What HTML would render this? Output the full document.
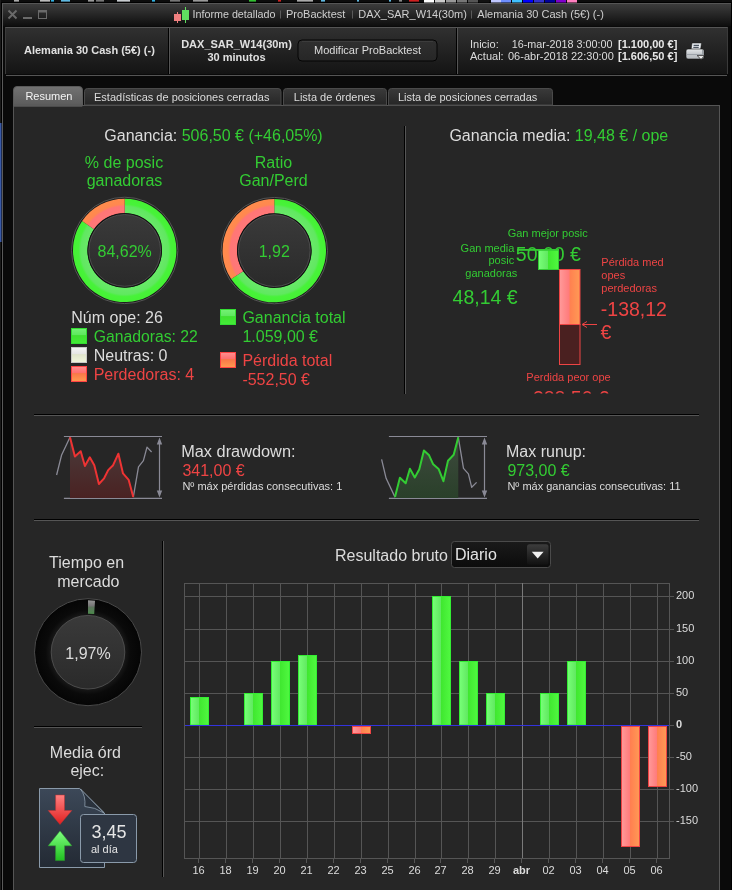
<!DOCTYPE html>
<html><head><meta charset="utf-8">
<style>
*{margin:0;padding:0;box-sizing:border-box}
html,body{width:732px;height:890px;overflow:hidden;background:#000;font-family:"Liberation Sans",sans-serif}
.abs{position:absolute}
#bgtop{left:0;top:0;width:732px;height:2px;background:#0c0c0c}
#bgleft{left:0;top:0;width:1px;height:890px;background:#1a1a1a}
#win{left:2px;top:3px;width:729px;height:887px;background:#0a0a0a;border-left:1px solid #5a5a5a;border-top:1px solid #555}
#title{left:3px;top:4px;width:728px;height:22px;background:linear-gradient(#3c3c3c,#0e0e0e)}
#hdr{left:5px;top:27px;width:723px;height:47px;background:linear-gradient(#303030,#141414);border-top:1px solid #555;border-left:1px solid #3a3a3a;border-right:1px solid #3a3a3a}
#hdrb{left:6px;top:75px;width:721px;height:1px;background:#555}
.t11{font-size:11px}
svg text{font-family:"Liberation Sans",sans-serif}
svg{will-change:transform}
#panel{left:13px;top:105px;width:707px;height:800px;background:#262626;border:1px solid #555}
</style></head><body>
<div class="abs" id="bgtop"></div>
<div class="abs" id="bgleft"></div>
<div class="abs" id="win"></div>
<div class="abs" id="title"></div>
<div class="abs" id="hdr"></div>
<div class="abs" id="hdrb"></div>
<div class="abs" id="panel"></div>

<svg class="abs" style="left:0;top:0" width="732" height="890" viewBox="0 0 732 890">
<defs>
  <linearGradient id="tabA" x1="0" y1="0" x2="0" y2="1"><stop offset="0" stop-color="#727272"/><stop offset="1" stop-color="#5a5a5a"/></linearGradient>
  <linearGradient id="tabI" x1="0" y1="0" x2="0" y2="1"><stop offset="0" stop-color="#3a3a3a"/><stop offset="1" stop-color="#262626"/></linearGradient>
  <linearGradient id="btn" x1="0" y1="0" x2="0" y2="1"><stop offset="0" stop-color="#303030"/><stop offset="1" stop-color="#262626"/></linearGradient>
  <linearGradient id="sqG" x1="0" y1="0" x2="0" y2="1"><stop offset="0" stop-color="#74f274"/><stop offset="0.44" stop-color="#5ee85e"/><stop offset="0.47" stop-color="#40e030"/><stop offset="1" stop-color="#44ec38"/></linearGradient>
  <linearGradient id="sqW" x1="0" y1="0" x2="0" y2="1"><stop offset="0" stop-color="#f6f6f6"/><stop offset="0.44" stop-color="#e4e4e4"/><stop offset="0.47" stop-color="#e0e4cc"/><stop offset="1" stop-color="#f0f6dc"/></linearGradient>
  <linearGradient id="sqR" x1="0" y1="0" x2="0" y2="1"><stop offset="0" stop-color="#ff9090"/><stop offset="0.44" stop-color="#ff6e6e"/><stop offset="0.47" stop-color="#f87848"/><stop offset="1" stop-color="#ff9a50"/></linearGradient>
  <linearGradient id="barG" x1="0" y1="0" x2="1" y2="0"><stop offset="0" stop-color="#78ff78"/><stop offset="0.48" stop-color="#60e860"/><stop offset="0.5" stop-color="#40e830"/><stop offset="1" stop-color="#50f840"/></linearGradient>
  <linearGradient id="barR" x1="0" y1="0" x2="1" y2="0"><stop offset="0" stop-color="#ff9a9a"/><stop offset="0.48" stop-color="#ff7a7a"/><stop offset="0.5" stop-color="#ff8050"/><stop offset="1" stop-color="#ff9a55"/></linearGradient>
  <linearGradient id="inner" x1="0" y1="0" x2="0" y2="1"><stop offset="0" stop-color="#3a3a3a"/><stop offset="1" stop-color="#2a2a2a"/></linearGradient>
  <radialGradient id="rg1" gradientUnits="userSpaceOnUse" cx="124.7" cy="250.4" r="51.7"><stop offset="0.72" stop-color="#5cf05c"/><stop offset="0.745" stop-color="#68e868"/><stop offset="0.85" stop-color="#60e860"/><stop offset="0.895" stop-color="#48f23a"/><stop offset="1" stop-color="#44f233"/></radialGradient>
  <radialGradient id="rr1" gradientUnits="userSpaceOnUse" cx="124.7" cy="250.4" r="51.7"><stop offset="0.72" stop-color="#ff7070"/><stop offset="0.745" stop-color="#ff7878"/><stop offset="0.85" stop-color="#ff7676"/><stop offset="0.895" stop-color="#ff8850"/><stop offset="1" stop-color="#ff8c4c"/></radialGradient>
  <radialGradient id="rg2" gradientUnits="userSpaceOnUse" cx="274.3" cy="250.6" r="51.7"><stop offset="0.72" stop-color="#5cf05c"/><stop offset="0.745" stop-color="#68e868"/><stop offset="0.85" stop-color="#60e860"/><stop offset="0.895" stop-color="#48f23a"/><stop offset="1" stop-color="#44f233"/></radialGradient>
  <radialGradient id="rr2" gradientUnits="userSpaceOnUse" cx="274.3" cy="250.6" r="51.7"><stop offset="0.72" stop-color="#ff7070"/><stop offset="0.745" stop-color="#ff7878"/><stop offset="0.85" stop-color="#ff7676"/><stop offset="0.895" stop-color="#ff8850"/><stop offset="1" stop-color="#ff8c4c"/></radialGradient>
  <linearGradient id="ddfill" x1="0" y1="0" x2="0" y2="1"><stop offset="0" stop-color="#4a3c3c"/><stop offset="1" stop-color="#4a2222"/></linearGradient>
  <linearGradient id="rufill" x1="0" y1="0" x2="0" y2="1"><stop offset="0" stop-color="#3e4a3e"/><stop offset="1" stop-color="#2a402a"/></linearGradient>
</defs>

<!-- title bar -->
<g stroke="#6a6a6a" stroke-width="1.6" fill="none">
  <path d="M8.5 10.5 L16.5 18.5 M16.5 10.5 L8.5 18.5" stroke-width="1.9"/>
</g>
<rect x="23" y="17" width="9" height="2" fill="#6a6a6a"/>
<rect x="38.5" y="10.5" width="8" height="8" fill="none" stroke="#6a6a6a" stroke-width="1"/>
<rect x="38.5" y="10.5" width="8" height="2" fill="#6a6a6a"/>
<line x1="177.5" y1="12" x2="177.5" y2="23" stroke="#f08080"/>
<rect x="174" y="14" width="7" height="7" fill="#f08080"/>
<line x1="185.5" y1="7" x2="185.5" y2="23" stroke="#60e060"/>
<rect x="182" y="10" width="7" height="10" fill="#60e060"/>
<g font-size="11" fill="#cfcfcf">
  <text x="192.5" y="18" textLength="83" lengthAdjust="spacingAndGlyphs">Informe detallado</text>
  <text x="286" y="18">ProBacktest</text>
  <text x="358.3" y="18" textLength="108.6" lengthAdjust="spacingAndGlyphs">DAX_SAR_W14(30m)</text>
  <text x="477.3" y="18">Alemania 30 Cash (5€) (-)</text>
</g>
<g stroke="#5a5a5a"><line x1="280.5" y1="10.5" x2="280.5" y2="18.5"/><line x1="352.5" y1="10.5" x2="352.5" y2="18.5"/><line x1="471.5" y1="10.5" x2="471.5" y2="18.5"/></g>

<!-- header -->
<rect x="168" y="28" width="1" height="46" fill="#000"/>
<rect x="169" y="28" width="1" height="46" fill="#555"/>
<rect x="456" y="28" width="1" height="46" fill="#000"/>
<rect x="457" y="28" width="1" height="46" fill="#555"/>
<g font-size="11" font-weight="bold" fill="#e0e0e0">
  <text x="24" y="53.6">Alemania 30 Cash (5€) (-)</text>
  <text x="236.5" y="48" text-anchor="middle">DAX_SAR_W14(30m)</text>
  <text x="236.5" y="60.8" text-anchor="middle">30 minutos</text>
</g>
<rect x="298" y="40" width="139" height="21" rx="4" fill="url(#btn)" stroke="#050505"/>
<path d="M302 41.5 L433 41.5" stroke="#3c3c3c" stroke-width="1"/>
<text x="367.5" y="53.7" font-size="11" fill="#dcdcdc" text-anchor="middle">Modificar ProBacktest</text>
<g font-size="11" fill="#dcdcdc">
  <text x="470" y="47.5">Inicio:</text>
  <text x="511.8" y="47.5" textLength="100.6" lengthAdjust="spacingAndGlyphs">16-mar-2018 3:00:00</text>
  <text x="470" y="60.4">Actual:</text>
  <text x="508" y="60.4">06-abr-2018 22:30:00</text>
</g>
<g font-size="11" font-weight="bold" fill="#e8e8e8">
  <text x="618" y="47.5">[1.100,00 €]</text>
  <text x="618" y="60.4">[1.606,50 €]</text>
</g>
<!-- printer -->
<defs><linearGradient id="prb" x1="0" y1="0" x2="0" y2="1"><stop offset="0" stop-color="#e6e8ea"/><stop offset="0.5" stop-color="#c4c8cc"/><stop offset="1" stop-color="#b8bcc0"/></linearGradient></defs>
<path d="M692 43 L701.5 43 L700.5 50 L691 50 Z" fill="#e8ecf0" stroke="#111" stroke-width="0.5"/>
<rect x="693.6" y="44.8" width="5.4" height="1.1" fill="#3a4450"/>
<rect x="693.3" y="46.8" width="5.4" height="1.1" fill="#3a4450"/>
<rect x="686" y="49" width="18" height="10" rx="2" fill="url(#prb)" stroke="#111" stroke-width="0.6"/>
<rect x="686.5" y="54" width="17" height="0.9" fill="#9aa0a6"/>
<rect x="702" y="50" width="1.5" height="5" fill="#9aa0a6"/>
<path d="M697.2 55.6 L704.6 55.6 L701 59.4 Z" fill="#f0f0f0" stroke="#111" stroke-width="0.7"/>
<!-- tabs -->

<path d="M84.5 105 L84.5 91.5 Q84.5 88.5 87.5 88.5 L278 88.5 Q281 88.5 281 91.5 L281 105 Z" fill="url(#tabI)" stroke="#4a4a4a"/>
<path d="M283.5 105 L283.5 91.5 Q283.5 88.5 286.5 88.5 L383.5 88.5 Q386.5 88.5 386.5 91.5 L386.5 105 Z" fill="url(#tabI)" stroke="#4a4a4a"/>
<path d="M388.5 105 L388.5 91.5 Q388.5 88.5 391.5 88.5 L549.5 88.5 Q552.5 88.5 552.5 91.5 L552.5 105 Z" fill="url(#tabI)" stroke="#4a4a4a"/>
<path d="M13.5 106 L13.5 90 Q13.5 86.5 17 86.5 L79 86.5 Q82.5 86.5 82.5 90 L82.5 106 Z" fill="url(#tabA)" stroke="#5a5a5a"/>
<rect x="14" y="104" width="68" height="2.5" fill="#5a5a5a"/>
<g font-size="11" fill="#dcdcdc">
  <text x="25.4" y="99.8" fill="#f4f4f4">Resumen</text>
  <text x="94" y="101">Estadísticas de posiciones cerradas</text>
  <text x="293.8" y="101">Lista de órdenes</text>
  <text x="397.9" y="101">Lista de posiciones cerradas</text>
</g>
<rect x="424" y="0" width="10" height="2.5" fill="#ffffff"/>
<rect x="435" y="0" width="10" height="2.5" fill="#cccccc"/>
<rect x="446" y="0" width="10" height="2.5" fill="#999999"/>
<rect x="457" y="0" width="10" height="2.5" fill="#777777"/>
<rect x="468" y="0" width="10" height="2.5" fill="#555555"/>
<rect x="479" y="0" width="10" height="2.5" fill="#111111"/>
<rect x="491" y="0" width="10" height="2.5" fill="#c0c8ff"/>
<rect x="501" y="0" width="10" height="2.5" fill="#6f8fff"/>
<rect x="512" y="0" width="10" height="2.5" fill="#40c0ff"/>
<rect x="523" y="0" width="10" height="2.5" fill="#0000ff"/>
<rect x="534" y="0" width="10" height="2.5" fill="#3333cc"/>
<rect x="545" y="0" width="10" height="2.5" fill="#000099"/>
<rect x="556" y="0" width="10" height="2.5" fill="#8000cc"/>
<rect x="567" y="0" width="10" height="2.5" fill="#ff80c0"/>
<rect x="0" y="123" width="1.5" height="119" fill="#3a5aa8"/>
<rect x="14" y="0" width="5" height="1.6" fill="#aaaaaa"/>
<rect x="40" y="0" width="10" height="1.6" fill="#bbbbbb"/>
<rect x="51" y="0" width="3" height="1.6" fill="#30b0e0"/>
<rect x="61" y="0" width="9" height="1.6" fill="#60b8e0"/>
<rect x="88" y="0" width="6" height="1.6" fill="#999999"/>
<rect x="96" y="0" width="8" height="1.6" fill="#777777"/>
<rect x="117" y="0" width="13" height="1.6" fill="#c8ccd0"/>
<rect x="152" y="0" width="3" height="1.6" fill="#30b0e0"/>
<rect x="170" y="0" width="10" height="1.6" fill="#777777"/>
<rect x="193" y="0" width="15" height="1.6" fill="#999999"/>
<rect x="249" y="0" width="7" height="1.6" fill="#30c030"/>
<rect x="278" y="0" width="3" height="1.6" fill="#d02020"/>
<rect x="297" y="0" width="16" height="1.6" fill="#aaaaaa"/>
<rect x="321" y="0" width="4" height="1.6" fill="#60b8e0"/>
<rect x="357" y="0" width="2" height="1.6" fill="#60b8e0"/>
<rect x="389" y="0" width="2" height="1.6" fill="#60b8e0"/>
<rect x="399" y="0" width="3" height="1.6" fill="#888888"/>
<rect x="409" y="0" width="10" height="1.6" fill="#d02020"/>
<rect x="404" y="126" width="1" height="268" fill="#000"/><rect x="405" y="126" width="1" height="268" fill="#555"/>
<rect x="34" y="414" width="665" height="1" fill="#000"/><rect x="34" y="415" width="665" height="1" fill="#555"/>
<rect x="34" y="519" width="665" height="1" fill="#000"/><rect x="34" y="520" width="665" height="1" fill="#555"/>
<rect x="162" y="541" width="1" height="336" fill="#000"/><rect x="163" y="541" width="1" height="336" fill="#555"/>
<rect x="34" y="726" width="108" height="1" fill="#000"/><rect x="34" y="727" width="108" height="1" fill="#555"/>
<text x="104.3" y="140.7" font-size="16" fill="#dcdcdc">Ganancia: <tspan fill="#33cc33">506,50 € (+46,05%)</tspan></text>
<g font-size="16" fill="#33cc33" text-anchor="middle"><text x="124" y="167.6">% de posic</text><text x="124.5" y="185.8">ganadoras</text><text x="273.5" y="167.6">Ratio</text><text x="273.5" y="185.8">Gan/Perd</text></g>
<circle cx="124.7" cy="250.4" r="53.2" fill="#1c1c1c" stroke="#555" stroke-width="1"/>
<path d="M124.70 198.70 A51.7 51.7 0 1 1 82.16 221.02 L94.01 229.20 A37.3 37.3 0 1 0 124.70 213.10 Z" fill="url(#rg1)"/>
<path d="M82.16 221.02 A51.7 51.7 0 0 1 124.70 198.70 L124.70 213.10 A37.3 37.3 0 0 0 94.01 229.20 Z" fill="url(#rr1)"/>
<circle cx="124.7" cy="250.4" r="36.6" fill="url(#inner)" stroke="#111" stroke-width="1.2"/>
<circle cx="124.7" cy="250.4" r="35.9" fill="none" stroke="#555" stroke-width="0.8"/>
<text x="124.7" y="256.7" font-size="16" fill="#33cc33" text-anchor="middle">84,62%</text>
<circle cx="274.3" cy="250.6" r="53.2" fill="#1c1c1c" stroke="#555" stroke-width="1"/>
<path d="M274.30 198.90 A51.7 51.7 0 1 1 231.15 279.08 L243.17 271.15 A37.3 37.3 0 1 0 274.30 213.30 Z" fill="url(#rg2)"/>
<path d="M231.15 279.08 A51.7 51.7 0 0 1 274.30 198.90 L274.30 213.30 A37.3 37.3 0 0 0 243.17 271.15 Z" fill="url(#rr2)"/>
<circle cx="274.3" cy="250.6" r="36.6" fill="url(#inner)" stroke="#111" stroke-width="1.2"/>
<circle cx="274.3" cy="250.6" r="35.9" fill="none" stroke="#555" stroke-width="0.8"/>
<text x="274.3" y="256.9" font-size="16" fill="#33cc33" text-anchor="middle">1,92</text>
<text x="71.3" y="323.2" font-size="16" fill="#dcdcdc">Núm ope: 26</text>
<rect x="71.5" y="328.5" width="15" height="15" fill="url(#sqG)" stroke="#33dd33" stroke-width="1"/>
<text x="93.7" y="342.2" font-size="16" fill="#33cc33" textLength="104.2" lengthAdjust="spacingAndGlyphs">Ganadoras: 22</text>
<rect x="71.5" y="347.5" width="15" height="15" fill="url(#sqW)" stroke="#c8c8c8" stroke-width="1"/>
<text x="93.7" y="361.2" font-size="16" fill="#dcdcdc">Neutras: 0</text>
<rect x="71.5" y="366.5" width="15" height="15" fill="url(#sqR)" stroke="#ff4444" stroke-width="1"/>
<text x="93.7" y="380.2" font-size="16" fill="#ee4444">Perdedoras: 4</text>
<rect x="220.5" y="309.5" width="15" height="15" fill="url(#sqG)" stroke="#33dd33"/>
<rect x="220.5" y="352.5" width="15" height="15" fill="url(#sqR)" stroke="#ff4444"/>
<text x="242.4" y="323.4" font-size="16" fill="#33cc33">Ganancia total</text>
<text x="242.4" y="341.8" font-size="16" fill="#33cc33">1.059,00 €</text>
<text x="242.4" y="366" font-size="16" fill="#ee4444">Pérdida total</text>
<text x="242.4" y="384.6" font-size="16" fill="#ee4444">-552,50 €</text>
<text x="449.4" y="141.2" font-size="16" fill="#dcdcdc">Ganancia media: <tspan fill="#33cc33">19,48 € / ope</tspan></text>
<defs><clipPath id="clipR"><rect x="405" y="120" width="300" height="273.5"/></clipPath><linearGradient id="gbox" x1="0" y1="0" x2="1" y2="0"><stop offset="0" stop-color="#78ff78"/><stop offset="0.48" stop-color="#60e860"/><stop offset="0.5" stop-color="#40e830"/><stop offset="1" stop-color="#50f840"/></linearGradient></defs>
<g clip-path="url(#clipR)">
<text x="547.7" y="236.8" font-size="11" fill="#33cc33" text-anchor="middle">Gan mejor posic</text>
<text x="548.4" y="260.8" font-size="19.5" fill="#33cc33" text-anchor="middle">50,00 €</text>
<rect x="538.5" y="249.5" width="20" height="20" fill="url(#gbox)" stroke="#3c3" stroke-width="1"/>
<rect x="517" y="249" width="42" height="1.8" fill="#33cc33"/>
<g font-size="11" fill="#33cc33" text-anchor="end"><text x="514.4" y="251.8">Gan media</text><text x="514.2" y="264.4">posic</text><text x="517.3" y="276.8">ganadoras</text></g>
<text x="517.6" y="303.8" font-size="19.5" fill="#33cc33" text-anchor="end">48,14 €</text>
<rect x="559.5" y="269.5" width="20.5" height="55" fill="url(#barR)" stroke="#e44" stroke-width="1"/>
<rect x="559.5" y="324.5" width="20.5" height="40" fill="#4a2020" stroke="#e44" stroke-width="1"/>
<line x1="583" y1="324.5" x2="597" y2="324.5" stroke="#e44" stroke-width="1"/><path d="M582 324.5 L587 321.5 M582 324.5 L587 327.5" stroke="#e44" stroke-width="1" fill="none"/>
<g font-size="11" fill="#ee4444"><text x="601.3" y="266">Pérdida med</text><text x="601.3" y="279">opes</text><text x="601.3" y="292.2">perdedoras</text></g>
<text x="600.8" y="315.7" font-size="19.5" fill="#ee4444">-138,12</text><text x="600.6" y="338.8" font-size="19.5" fill="#ee4444">€</text>
<text x="568.5" y="380.6" font-size="11" fill="#ee4444" text-anchor="middle">Perdida peor ope</text>
<text x="567.6" y="404.8" font-size="19.5" fill="#ee4444" text-anchor="middle">-388,50 €</text>
</g>
<line x1="63.9" y1="436.5" x2="162" y2="436.5" stroke="#8a8a96" stroke-width="1.2"/>
<line x1="63.9" y1="498.3" x2="162" y2="498.3" stroke="#8a8a96" stroke-width="1.2"/>
<line x1="159.5" y1="440" x2="159.5" y2="495" stroke="#8a8a96" stroke-width="1.2"/>
<path d="M159.5 437.5 L156.8 444.5 L162.2 444.5 Z M159.5 497.5 L156.8 490.5 L162.2 490.5 Z" fill="#8a8a96"/>
<polygon points="70.0,498 70.0,437.3 74.9,456.5 80.7,451.2 84.9,466.0 89.8,457.3 94.3,465.2 98.9,484.0 104.1,478.3 108.2,470.1 113.1,465.2 118.4,453.7 123.0,473.4 128.7,479.9 133.3,497.1 133.3,498" fill="url(#ddfill)"/>
<polyline points="56.6,475.0 61.5,455.3 70.0,437.3" fill="none" stroke="#8a8a96" stroke-width="1.3" stroke-linejoin="round"/>
<polyline points="133.3,497.1 138.5,466.8 143.4,460.7 147.0,447.1 151.6,452.0" fill="none" stroke="#8a8a96" stroke-width="1.3" stroke-linejoin="round"/>
<polyline points="70.0,437.3 74.9,456.5 80.7,451.2 84.9,466.0 89.8,457.3 94.3,465.2 98.9,484.0 104.1,478.3 108.2,470.1 113.1,465.2 118.4,453.7 123.0,473.4 128.7,479.9 133.3,497.1" fill="none" stroke="#ee3333" stroke-width="2" stroke-linejoin="round"/>
<line x1="388.9" y1="436.5" x2="487" y2="436.5" stroke="#8a8a96" stroke-width="1.2"/>
<line x1="388.9" y1="498.3" x2="487" y2="498.3" stroke="#8a8a96" stroke-width="1.2"/>
<line x1="484.5" y1="440" x2="484.5" y2="495" stroke="#8a8a96" stroke-width="1.2"/>
<path d="M484.5 437.5 L481.8 444.5 L487.2 444.5 Z M484.5 497.5 L481.8 490.5 L487.2 490.5 Z" fill="#8a8a96"/>
<polygon points="395.0,498 395.0,497.1 399.9,477.8 405.7,483.2 409.9,468.8 414.8,477.5 419.3,469.3 423.9,450.4 429.1,455.3 433.2,464.3 438.6,468.9 443.4,481.2 448.0,460.7 453.7,454.8 458.3,437.3 458.3,498" fill="url(#rufill)"/>
<polyline points="381.6,459.4 386.1,478.3 395.0,497.1" fill="none" stroke="#8a8a96" stroke-width="1.3" stroke-linejoin="round"/>
<polyline points="458.3,437.3 463.5,468.4 468.4,473.9 471.7,487.3 476.6,482.4" fill="none" stroke="#8a8a96" stroke-width="1.3" stroke-linejoin="round"/>
<polyline points="395.0,497.1 399.9,477.8 405.7,483.2 409.9,468.8 414.8,477.5 419.3,469.3 423.9,450.4 429.1,455.3 433.2,464.3 438.6,468.9 443.4,481.2 448.0,460.7 453.7,454.8 458.3,437.3" fill="none" stroke="#33cc33" stroke-width="2" stroke-linejoin="round"/>
<text x="181.2" y="456.6" font-size="16" fill="#dcdcdc" textLength="114.3" lengthAdjust="spacingAndGlyphs">Max drawdown:</text>
<text x="182.4" y="475.6" font-size="16" fill="#ee4444">341,00 €</text>
<text x="182.4" y="489.6" font-size="11" fill="#dcdcdc">Nº máx pérdidas consecutivas: 1</text>
<text x="506" y="456.6" font-size="16" fill="#dcdcdc">Max runup:</text>
<text x="507.4" y="475.6" font-size="16" fill="#33cc33">973,00 €</text>
<text x="507.4" y="489.6" font-size="11" fill="#dcdcdc">Nº máx ganancias consecutivas: 11</text>
<g font-size="16" fill="#dcdcdc"><text x="49.1" y="567.8">Tiempo en</text><text x="57.2" y="586.6">mercado</text></g>
<defs><radialGradient id="tring" gradientUnits="userSpaceOnUse" cx="88" cy="652.2" r="53"><stop offset="0.68" stop-color="#1a1a1a"/><stop offset="0.8" stop-color="#0a0a0a"/><stop offset="1" stop-color="#050505"/></radialGradient><linearGradient id="tseg" x1="0" y1="0" x2="0" y2="1"><stop offset="0" stop-color="#959595"/><stop offset="0.4" stop-color="#767676"/><stop offset="0.5" stop-color="#5e745e"/><stop offset="1" stop-color="#4c8a4c"/></linearGradient></defs>
<circle cx="88" cy="652.2" r="53.5" fill="url(#tring)" stroke="#4a4a4a" stroke-width="1"/>
<path d="M88 600.3 L95 600.8 L94.2 614 L88 613.8 Z" fill="url(#tseg)"/>
<circle cx="88" cy="652.2" r="36.8" fill="url(#inner)" stroke="#555" stroke-width="0.8"/>
<text x="88" y="658.5" font-size="16" fill="#dcdcdc" text-anchor="middle">1,97%</text>
<g font-size="16" fill="#dcdcdc"><text x="49.8" y="757.5">Media órd</text><text x="70.4" y="776">ejec:</text></g>
<defs><linearGradient id="doc" x1="0" y1="0" x2="0" y2="1"><stop offset="0" stop-color="#3c4858"/><stop offset="1" stop-color="#232a34"/></linearGradient><linearGradient id="arR" x1="0" y1="0" x2="0" y2="1"><stop offset="0" stop-color="#ff8080"/><stop offset="1" stop-color="#e02020"/></linearGradient><linearGradient id="arG" x1="0" y1="0" x2="0" y2="1"><stop offset="0" stop-color="#80ff80"/><stop offset="1" stop-color="#20c020"/></linearGradient></defs>
<path d="M39.5 788.5 L79.7 788.5 L104.5 813 L104.5 867.5 L39.5 867.5 Z" fill="url(#doc)" stroke="#8a9aaa" stroke-width="1"/>
<path d="M80.5 789 Q86 796 84.8 806.5 Q95 807 104 813 L80.5 789 Z" fill="#2a323d" stroke="#9aaaba" stroke-width="0.7"/>
<path d="M55.6 795 L64.5 795 L64.5 810.5 L71.8 810.5 L60 824.5 L48.2 810.5 L55.6 810.5 Z" fill="url(#arR)" stroke="#c03030" stroke-width="0.5"/>
<path d="M60 831 L71.8 845.8 L64.5 845.8 L64.5 860.6 L55.6 860.6 L55.6 845.8 L48.2 845.8 Z" fill="url(#arG)" stroke="#30a030" stroke-width="0.5"/>
<rect x="80.5" y="814.5" width="56" height="48" rx="3" fill="#2e3642" stroke="#8a9aaa" stroke-width="1"/>
<text x="91.4" y="837.5" font-size="18" fill="#e6e6e6">3,45</text>
<text x="90.9" y="853.2" font-size="11" fill="#e6e6e6">al día</text>
<text x="335" y="560.5" font-size="16" fill="#dcdcdc">Resultado bruto</text>
<defs><linearGradient id="dd" x1="0" y1="0" x2="0" y2="1"><stop offset="0" stop-color="#1a1a1a"/><stop offset="1" stop-color="#0c0c0c"/></linearGradient><linearGradient id="ddb" x1="0" y1="0" x2="0" y2="1"><stop offset="0" stop-color="#3c3c3c"/><stop offset="1" stop-color="#111"/></linearGradient></defs>
<rect x="451.5" y="541.5" width="99" height="26" rx="3" fill="url(#dd)" stroke="#4a4a4a"/>
<text x="455" y="560.3" font-size="16" fill="#e4e4e4">Diario</text>
<rect x="527" y="544.3" width="21.5" height="20.5" rx="2.5" fill="url(#ddb)"/>
<path d="M531.8 551.8 L543.6 551.8 L537.7 558.4 Z" fill="#f0f0f0"/>
<rect x="184.5" y="583.5" width="485" height="275" fill="none" stroke="#555" stroke-width="1"/>
<rect x="184" y="596" width="490" height="1" fill="#555"/>
<rect x="184" y="629" width="490" height="1" fill="#555"/>
<rect x="184" y="661" width="490" height="1" fill="#555"/>
<rect x="184" y="693" width="490" height="1" fill="#555"/>
<rect x="184" y="757" width="490" height="1" fill="#555"/>
<rect x="184" y="789" width="490" height="1" fill="#555"/>
<rect x="184" y="821" width="490" height="1" fill="#555"/>
<rect x="199" y="583" width="1" height="275" fill="#555"/>
<rect x="198" y="858" width="1" height="5" fill="#555"/>
<text x="198.5" y="874" font-size="11" fill="#dcdcdc" text-anchor="middle">16</text>
<rect x="226" y="583" width="1" height="275" fill="#555"/>
<rect x="225" y="858" width="1" height="5" fill="#555"/>
<text x="225.5" y="874" font-size="11" fill="#dcdcdc" text-anchor="middle">18</text>
<rect x="253" y="583" width="1" height="275" fill="#555"/>
<rect x="252" y="858" width="1" height="5" fill="#555"/>
<text x="252.5" y="874" font-size="11" fill="#dcdcdc" text-anchor="middle">19</text>
<rect x="280" y="583" width="1" height="275" fill="#555"/>
<rect x="279" y="858" width="1" height="5" fill="#555"/>
<text x="279.5" y="874" font-size="11" fill="#dcdcdc" text-anchor="middle">20</text>
<rect x="307" y="583" width="1" height="275" fill="#555"/>
<rect x="306" y="858" width="1" height="5" fill="#555"/>
<text x="306.5" y="874" font-size="11" fill="#dcdcdc" text-anchor="middle">21</text>
<rect x="334" y="583" width="1" height="275" fill="#555"/>
<rect x="333" y="858" width="1" height="5" fill="#555"/>
<text x="333.5" y="874" font-size="11" fill="#dcdcdc" text-anchor="middle">22</text>
<rect x="361" y="583" width="1" height="275" fill="#555"/>
<rect x="360" y="858" width="1" height="5" fill="#555"/>
<text x="360.5" y="874" font-size="11" fill="#dcdcdc" text-anchor="middle">23</text>
<rect x="388" y="583" width="1" height="275" fill="#555"/>
<rect x="387" y="858" width="1" height="5" fill="#555"/>
<text x="387.5" y="874" font-size="11" fill="#dcdcdc" text-anchor="middle">25</text>
<rect x="415" y="583" width="1" height="275" fill="#555"/>
<rect x="414" y="858" width="1" height="5" fill="#555"/>
<text x="414.5" y="874" font-size="11" fill="#dcdcdc" text-anchor="middle">26</text>
<rect x="441" y="583" width="1" height="275" fill="#555"/>
<rect x="440" y="858" width="1" height="5" fill="#555"/>
<text x="440.5" y="874" font-size="11" fill="#dcdcdc" text-anchor="middle">27</text>
<rect x="468" y="583" width="1" height="275" fill="#555"/>
<rect x="467" y="858" width="1" height="5" fill="#555"/>
<text x="467.5" y="874" font-size="11" fill="#dcdcdc" text-anchor="middle">28</text>
<rect x="495" y="583" width="1" height="275" fill="#555"/>
<rect x="494" y="858" width="1" height="5" fill="#555"/>
<text x="494.5" y="874" font-size="11" fill="#dcdcdc" text-anchor="middle">29</text>
<rect x="522" y="583" width="1" height="275" fill="#7a7a7a"/>
<rect x="521" y="858" width="1" height="5" fill="#555"/>
<text x="521.5" y="874" font-size="11" fill="#dcdcdc" text-anchor="middle" font-weight="bold">abr</text>
<rect x="549" y="583" width="1" height="275" fill="#555"/>
<rect x="548" y="858" width="1" height="5" fill="#555"/>
<text x="548.5" y="874" font-size="11" fill="#dcdcdc" text-anchor="middle">02</text>
<rect x="576" y="583" width="1" height="275" fill="#555"/>
<rect x="575" y="858" width="1" height="5" fill="#555"/>
<text x="575.5" y="874" font-size="11" fill="#dcdcdc" text-anchor="middle">03</text>
<rect x="603" y="583" width="1" height="275" fill="#555"/>
<rect x="602" y="858" width="1" height="5" fill="#555"/>
<text x="602.5" y="874" font-size="11" fill="#dcdcdc" text-anchor="middle">04</text>
<rect x="630" y="583" width="1" height="275" fill="#555"/>
<rect x="629" y="858" width="1" height="5" fill="#555"/>
<text x="629.5" y="874" font-size="11" fill="#dcdcdc" text-anchor="middle">05</text>
<rect x="657" y="583" width="1" height="275" fill="#555"/>
<rect x="656" y="858" width="1" height="5" fill="#555"/>
<text x="656.5" y="874" font-size="11" fill="#dcdcdc" text-anchor="middle">06</text>
<rect x="190.5" y="697.5" width="18" height="27.5" fill="url(#barG)" stroke="#3e3" stroke-width="1"/>
<rect x="244.5" y="693.5" width="18" height="31.5" fill="url(#barG)" stroke="#3e3" stroke-width="1"/>
<rect x="271.5" y="661.5" width="18" height="63.5" fill="url(#barG)" stroke="#3e3" stroke-width="1"/>
<rect x="298.5" y="655.5" width="18" height="69.5" fill="url(#barG)" stroke="#3e3" stroke-width="1"/>
<rect x="352.5" y="726.5" width="18" height="7" fill="url(#barR)" stroke="#e44" stroke-width="1"/>
<rect x="432.5" y="596.5" width="18" height="128.5" fill="url(#barG)" stroke="#3e3" stroke-width="1"/>
<rect x="459.5" y="661.5" width="18" height="63.5" fill="url(#barG)" stroke="#3e3" stroke-width="1"/>
<rect x="486.5" y="693.5" width="18" height="31.5" fill="url(#barG)" stroke="#3e3" stroke-width="1"/>
<rect x="540.5" y="693.5" width="18" height="31.5" fill="url(#barG)" stroke="#3e3" stroke-width="1"/>
<rect x="567.5" y="661.5" width="18" height="63.5" fill="url(#barG)" stroke="#3e3" stroke-width="1"/>
<rect x="621.5" y="726.5" width="18" height="120" fill="url(#barR)" stroke="#e44" stroke-width="1"/>
<rect x="648.5" y="726.5" width="18" height="60" fill="url(#barR)" stroke="#e44" stroke-width="1"/>
<rect x="185" y="725" width="484" height="1" fill="#3333dd"/>
<rect x="669" y="725" width="5" height="1" fill="#555"/>
<text x="676" y="599.2" font-size="11" fill="#dcdcdc">200</text>
<text x="676" y="632.2" font-size="11" fill="#dcdcdc">150</text>
<text x="676" y="664.2" font-size="11" fill="#dcdcdc">100</text>
<text x="676" y="696.2" font-size="11" fill="#dcdcdc">50</text>
<text x="676" y="728.2" font-size="11" fill="#dcdcdc" font-weight="bold">0</text>
<text x="676" y="760.2" font-size="11" fill="#dcdcdc">-50</text>
<text x="676" y="792.2" font-size="11" fill="#dcdcdc">-100</text>
<text x="676" y="824.2" font-size="11" fill="#dcdcdc">-150</text>
</svg>
</body></html>
